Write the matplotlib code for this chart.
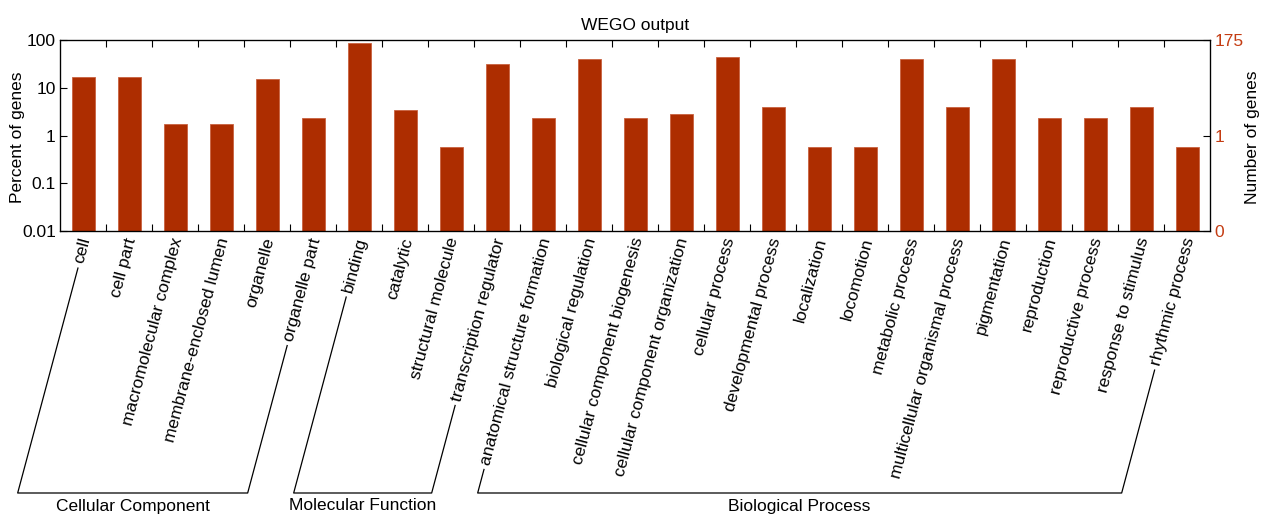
import matplotlib
matplotlib.use("Agg")
import matplotlib.pyplot as plt
import numpy as np
from matplotlib.lines import Line2D
from matplotlib.ticker import NullLocator, FixedLocator, FixedFormatter

plt.rcParams["font.family"] = ["Liberation Sans", "DejaVu Sans"]

# GO terms (level 2) and the share of annotated genes in each term
categories = [
    "cell", "cell part", "macromolecular complex", "membrane-enclosed lumen",
    "organelle", "organelle part",
    "binding", "catalytic", "structural molecule", "transcription regulator",
    "anatomical structure formation", "biological regulation",
    "cellular component biogenesis", "cellular component organization",
    "cellular process", "developmental process", "localization", "locomotion",
    "metabolic process", "multicellular organismal process", "pigmentation",
    "reproduction", "reproductive process", "response to stimulus",
    "rhythmic process",
]
percent_genes = [
    17.1, 17.1, 1.71, 1.71, 14.9, 2.29,
    85.1, 3.43, 0.571, 31.4,
    2.29, 40.0, 2.29, 2.86, 43.4, 4.00, 0.571, 0.571,
    39.4, 4.00, 39.4, 2.29, 2.29, 4.00, 0.571,
]

# ontology groups: name, first and last term index
group_names = ["Cellular Component", "Molecular Function", "Biological Process"]
group_first = [0, 6, 10]
group_last = [5, 9, 24]

left_ticks = [0.01, 0.1, 1, 10, 100]
left_labels = ["0.01", "0.1", "1", "10", "100"]
right_ticks = [0.01, 1, 100]
right_labels = ["0", "1", "175"]

BAR = "#ad2d00"
RIGHT_COLOR = "#c43c12"
FS = 12.5
W, H = 1262, 514

fig = plt.figure(figsize=(W / 100, H / 100), dpi=100)
ax = fig.add_axes([60 / W, 1 - 231 / H, 1150 / W, 191 / H])

x = np.arange(len(categories))
ax.set_yscale("log")
ax.bar(x, percent_genes, width=0.5, color=BAR, edgecolor="#c9613f", linewidth=0.6)
ax.set_xlim(-0.5, len(categories) - 0.5)
ax.set_ylim(0.01, 100)

ax.yaxis.set_major_locator(FixedLocator(left_ticks))
ax.yaxis.set_major_formatter(FixedFormatter(left_labels))
ax.yaxis.set_minor_locator(NullLocator())
ax.set_xticks(np.arange(0.5, len(categories) - 1, 1))
ax.set_xticklabels([])
ax.tick_params(axis="both", direction="in", length=5, width=0.8, labelsize=FS,
               top=True, right=False, pad=3)
for s in ax.spines.values():
    s.set_linewidth(0.9)

ax2 = ax.twinx()
ax2.set_yscale("log")
ax2.set_ylim(0.01, 100)
ax2.yaxis.set_major_locator(FixedLocator(right_ticks))
ax2.yaxis.set_major_formatter(FixedFormatter(right_labels))
ax2.yaxis.set_minor_locator(NullLocator())
ax2.tick_params(axis="y", direction="in", length=5, width=0.8, labelsize=FS,
                labelcolor=RIGHT_COLOR, pad=3)

ax.set_title("WEGO output", fontsize=FS, pad=7)
fig.text(18 / W, 1 - 137 / H, "Percent of genes", rotation=90,
         ha="center", va="center", fontsize=FS)
fig.text(1253 / W, 1 - 137 / H, "Number of genes", rotation=90,
         ha="center", va="center", fontsize=FS)

ANG = 75
LAB_DX, LAB_DY = 3, -7
labels = []
for i, name in enumerate(categories):
    t = ax.annotate(name, xy=(i, 0), xycoords=("data", "axes fraction"),
                    xytext=(LAB_DX, LAB_DY), textcoords="offset pixels",
                    rotation=ANG, rotation_mode="anchor", ha="right",
                    va="center", fontsize=FS, annotation_clip=False)
    labels.append(t)

# brackets joining each ontology's labels
fig.canvas.draw()
renderer = fig.canvas.get_renderer()
d = np.array([np.cos(np.radians(ANG)), np.sin(np.radians(ANG))])
bracket_y = 21.0
gap = 5.0
to_fig = fig.transFigure.inverted()


def label_foot(i):
    anchor = ax.transData.transform((i, 0))
    anchor[1] = ax.transAxes.transform((0, 0))[1]
    anchor = anchor + np.array([LAB_DX, LAB_DY])
    w, h, _ = renderer.get_text_width_height_descent(
        categories[i], labels[i].get_fontproperties(), ismath=False)
    top = anchor - (w + gap) * d
    t = (top[1] - bracket_y) / d[1]
    return top, top - t * d


for name, a, b in zip(group_names, group_first, group_last):
    p1, b1 = label_foot(a)
    p2, b2 = label_foot(b)
    pts = np.array([p1, b1, b2, p2])
    fpts = to_fig.transform(pts)
    fig.add_artist(Line2D(fpts[:, 0], fpts[:, 1], transform=fig.transFigure,
                          color="black", linewidth=0.9))
    cx = to_fig.transform(((b1[0] + b2[0]) / 2, 8))
    fig.text(cx[0], cx[1], name, ha="center", va="center", fontsize=FS)

fig.savefig("out.png", dpi=100)
